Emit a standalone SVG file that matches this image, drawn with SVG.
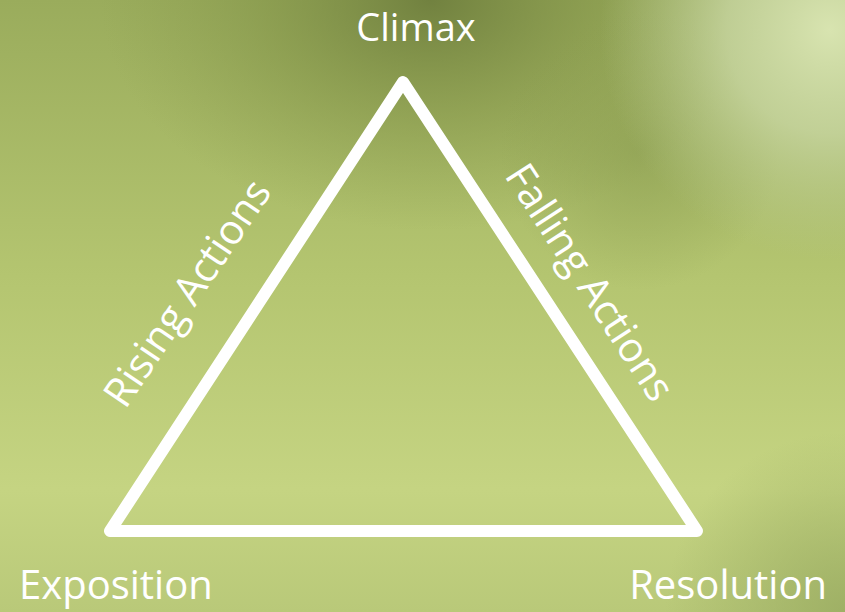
<svg xmlns="http://www.w3.org/2000/svg" width="845" height="612" viewBox="0 0 845 612">
  <defs>
    <linearGradient id="bg" x1="0" y1="0" x2="0" y2="1">
      <stop offset="0" stop-color="#9aac5c"/>
      <stop offset="0.45" stop-color="#b4c570"/>
      <stop offset="0.8" stop-color="#c5d482"/>
      <stop offset="1" stop-color="#b9c979"/>
    </linearGradient>
    <radialGradient id="dark" cx="430" cy="0" r="330" gradientUnits="userSpaceOnUse" gradientTransform="translate(430 0) scale(1 0.7) translate(-430 0)">
      <stop offset="0" stop-color="#6f7f3e" stop-opacity="0.95"/>
      <stop offset="0.5" stop-color="#7f9046" stop-opacity="0.5"/>
      <stop offset="1" stop-color="#8a9b4e" stop-opacity="0"/>
    </radialGradient>
    <radialGradient id="light" cx="830" cy="30" r="230" gradientUnits="userSpaceOnUse">
      <stop offset="0" stop-color="#d8e4b0" stop-opacity="1"/>
      <stop offset="0.45" stop-color="#c8d6a2" stop-opacity="0.8"/>
      <stop offset="1" stop-color="#b8c890" stop-opacity="0"/>
    </radialGradient>
    <radialGradient id="mid" cx="640" cy="150" r="140" gradientUnits="userSpaceOnUse">
      <stop offset="0" stop-color="#8a9c50" stop-opacity="0.6"/>
      <stop offset="1" stop-color="#8a9c50" stop-opacity="0"/>
    </radialGradient>
    <radialGradient id="corner" cx="845" cy="612" r="180" gradientUnits="userSpaceOnUse">
      <stop offset="0" stop-color="#98aa60" stop-opacity="0.8"/>
      <stop offset="1" stop-color="#98aa60" stop-opacity="0"/>
    </radialGradient>
    <style>
      .lbl { fill: #ffffff; font-family: "Open Sans", "Noto Sans", "Liberation Sans", sans-serif; }
    </style>
  </defs>
  <rect x="0" y="0" width="845" height="612" fill="url(#bg)"/>
  <rect x="0" y="0" width="845" height="612" fill="url(#dark)"/>
  <rect x="0" y="0" width="845" height="612" fill="url(#mid)"/>
  <rect x="0" y="0" width="845" height="612" fill="url(#light)"/>
  <rect x="0" y="0" width="845" height="612" fill="url(#corner)"/>

  <g id="connectors">
    <polygon id="triangle" points="403,82 110,531 697,531" fill="none" stroke="#ffffff" stroke-width="12" stroke-linejoin="round"/>
  </g>

  <g id="climax"><text class="lbl" x="416" y="41" font-size="38" text-anchor="middle">Climax</text></g>
  <g id="exposition"><text class="lbl" x="19" y="599" font-size="40">Exposition</text></g>
  <g id="resolution"><text class="lbl" x="827" y="599" font-size="40" text-anchor="end">Resolution</text></g>
  <g id="rising"><text class="lbl" font-size="41" text-anchor="middle" transform="translate(199,301) rotate(-56)">Rising Actions</text></g>
  <g id="falling"><text class="lbl" font-size="41" text-anchor="middle" transform="translate(578,290) rotate(57)">Falling Actions</text></g>
</svg>
